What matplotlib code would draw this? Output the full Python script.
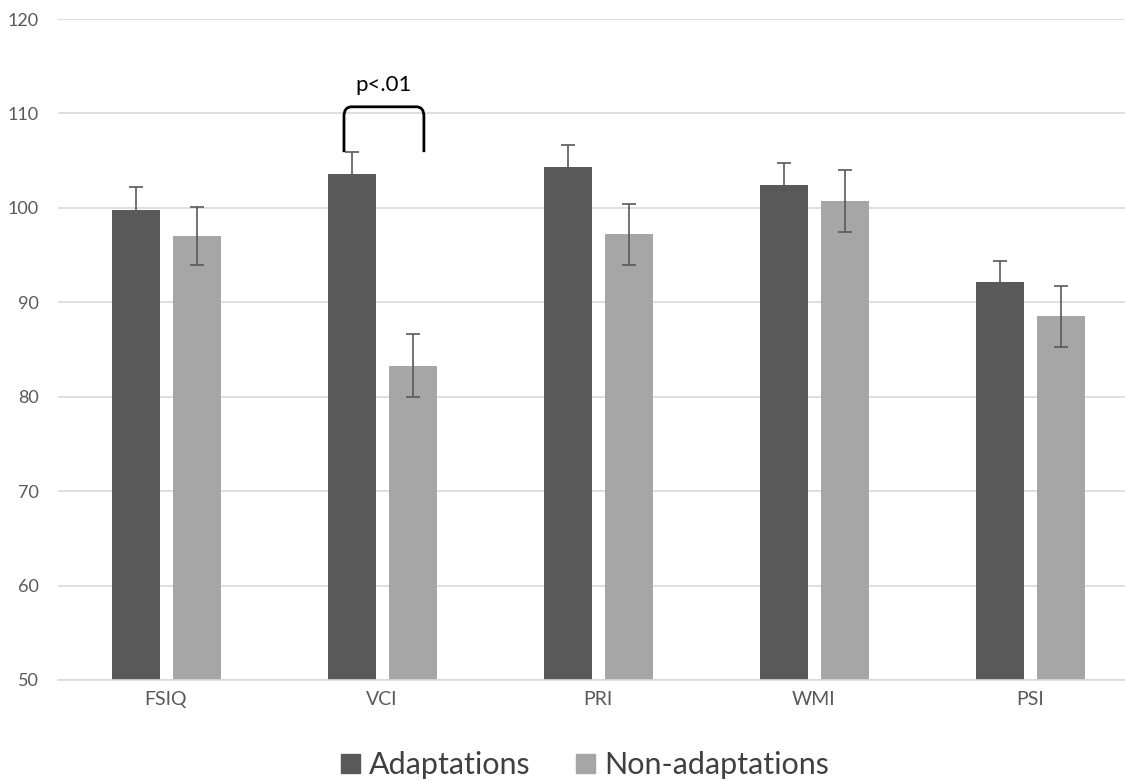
import numpy as np
import matplotlib.pyplot as plt
from matplotlib.path import Path
from matplotlib.patches import PathPatch, Patch

categories = ["FSIQ", "VCI", "PRI", "WMI", "PSI"]
adapt = [99.8, 103.6, 104.3, 102.4, 92.1]
adapt_err = [2.4, 2.3, 2.4, 2.3, 2.3]
nonadapt = [97.0, 83.3, 97.2, 100.7, 88.5]
nonadapt_err = [3.1, 3.3, 3.2, 3.3, 3.2]
yticks = [50, 60, 70, 80, 90, 100, 110, 120]

plt.rcParams['font.family'] = ['Lato', 'DejaVu Sans']
dark = '#595959'
light = '#a6a6a6'
grid = '#d9d9d9'

fig = plt.figure(figsize=(11.25, 7.81), dpi=100)
ax = fig.add_axes([58/1125, 1 - 680/781, 1 - 58/1125, (680 - 19)/781])

x = np.arange(len(categories))
w = 0.222
ax.bar(x - 0.14, adapt, width=w, color=dark, zorder=2)
ax.bar(x + 0.145, nonadapt, width=w, color=light, zorder=2)
ax.errorbar(x - 0.14, adapt, yerr=adapt_err, fmt='none', ecolor=dark,
            elinewidth=1.2, capsize=5, capthick=1.2, zorder=3)
ax.errorbar(x + 0.145, nonadapt, yerr=nonadapt_err, fmt='none', ecolor=dark,
            elinewidth=1.2, capsize=5, capthick=1.2, zorder=3)

# significance bracket
xl, xr, yb, yt = 0.824, 1.194, 105.9, 110.7
verts = [(xl, yb), (xl, yt - 1.0), (xl, yt), (xl + 0.035, yt),
         (xr - 0.035, yt), (xr, yt), (xr, yt - 1.0), (xr, yb)]
codes = [Path.MOVETO, Path.LINETO, Path.CURVE3, Path.CURVE3,
         Path.LINETO, Path.CURVE3, Path.CURVE3, Path.LINETO]
ax.add_patch(PathPatch(Path(verts, codes), fill=False, lw=2, ec='black', zorder=4))
ax.text((xl + xr) / 2, 112.0, "p<.01", ha='center', va='bottom', fontsize=16)

ax.set_ylim(50, 120)
ax.set_xlim(-0.5, (1125 - 166) / 216)
ax.set_yticks(yticks)
ax.set_xticks(x)
ax.set_xticklabels(categories)
ax.yaxis.grid(True, color=grid, lw=1.2, zorder=0)
ax.set_axisbelow(True)
for s in ['top', 'right', 'left']:
    ax.spines[s].set_visible(False)
ax.spines['bottom'].set_color(grid)
ax.spines['bottom'].set_linewidth(1.2)
ax.tick_params(axis='x', length=0, labelsize=14, colors='#595959', pad=8)
ax.tick_params(axis='y', length=0, labelsize=13, colors='#595959', pad=14)

handles = [Patch(color=dark, label="Adaptations"), Patch(color=light, label="Non-adaptations")]
fig.legend(handles=handles, loc='center', bbox_to_anchor=(0.52, 0.02), ncol=2, frameon=False,
           fontsize=22, labelcolor='#404040', handlelength=0.6, handleheight=0.6,
           handletextpad=0.3, columnspacing=1.5)

fig.savefig("out.png", dpi=100)
